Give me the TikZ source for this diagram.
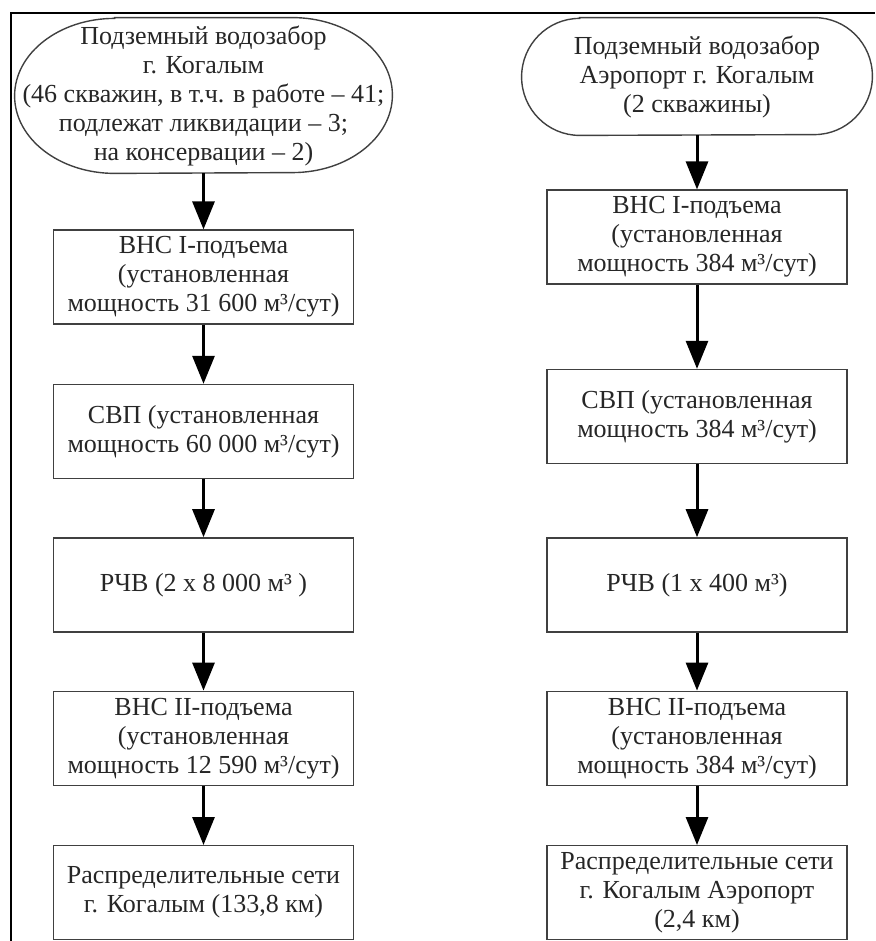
\documentclass[tikz,border=0pt]{standalone}
\usepackage{fontspec}
\setmainfont{Liberation Serif}
\usetikzlibrary{positioning,arrows.meta,calc}
\definecolor{boxgray}{HTML}{404040}

\begin{document}
\begin{tikzpicture}[
    node distance=29pt,
    every node/.style={font=\fontsize{13}{14.5}\selectfont, text=black!85},
    block/.style={rectangle, draw=boxgray, line width=0.7pt,
                  minimum width=150pt, minimum height=47pt,
                  align=center, inner sep=2pt},
    source/.style 2 args={minimum width=#1, minimum height=#2,
                  inner sep=0pt, align=center},
    outline/.style={draw=boxgray, line width=0.7pt},
    arrow/.style={-{Triangle[width=11pt, length=14pt]}, line width=1.5pt},
]

% Frame
\useasboundingbox (0,0) rectangle (437.5pt,-470.5pt);
\draw[line width=1pt] (5.5pt,-470.5pt) -- (5.5pt,-6.5pt) -- (437.5pt,-6.5pt);

% Left chain
\node[source={188.5pt}{77.5pt}] (srcA) at (101.75pt,-47.75pt)
    {Подземный водозабор\\г. Когалым\\(46 скважин, в т.ч. в работе – 41;\\подлежат ликвидации – 3;\\на консервации – 2)};
\node[block, below=28pt of srcA] (pumpA1) {ВНС I-подъема\\(установленная\\мощность 31 600 м³/сут)};
\node[block, below=29.5pt of pumpA1] (treatA) {СВП (установленная\\мощность 60 000 м³/сут)};
\node[block, below=of treatA] (tankA) {РЧВ (2 x 8 000 м³ )};
\node[block, below=of tankA] (pumpA2) {ВНС II-подъема\\(установленная\\мощность 12 590 м³/сут)};
\node[block, below=29.5pt of pumpA2] (netA) {Распределительные сети\\г. Когалым (133,8 км)};

% Right chain
\node[source={175pt}{58.5pt}] (srcB) at (348.5pt,-38.25pt)
    {Подземный водозабор\\Аэропорт г. Когалым\\(2 скважины)};
\node[block, below=27pt of srcB] (pumpB1) {ВНС I-подъема\\(установленная\\мощность 384 м³/сут)};
\node[block, below=42pt of pumpB1] (treatB) {СВП (установленная\\мощность 384 м³/сут)};
\node[block, below=36.5pt of treatB] (tankB) {РЧВ (1 x 400 м³)};
\node[block, below=of tankB] (pumpB2) {ВНС II-подъема\\(установленная\\мощность 384 м³/сут)};
\node[block, below=29.5pt of pumpB2] (netB) {Распределительные сети\\г. Когалым Аэропорт\\(2,4 км)};

% Source outlines
\draw[outline] ($(srcA.north west)+(50pt,0)$) -- ($(srcA.north east)+(-50pt,0)$)
    arc[start angle=90, end angle=-90, x radius=50pt, y radius=38.75pt]
    -- ($(srcA.south west)+(50pt,0)$)
    arc[start angle=270, end angle=90, x radius=50pt, y radius=38.75pt] -- cycle;
\draw[outline] ($(srcB.north west)+(29pt,0)$) -- ($(srcB.north east)+(-29pt,0)$)
    arc[start angle=90, end angle=-90, x radius=29pt, y radius=29.25pt]
    -- ($(srcB.south west)+(29pt,0)$)
    arc[start angle=270, end angle=90, x radius=29pt, y radius=29.25pt] -- cycle;

% Arrows
\foreach \from/\to in {srcA/pumpA1, pumpA1/treatA, treatA/tankA, tankA/pumpA2, pumpA2/netA,
                       srcB/pumpB1, pumpB1/treatB, treatB/tankB, tankB/pumpB2, pumpB2/netB}
    \draw[arrow] (\from) -- (\to);

\end{tikzpicture}
\end{document}
